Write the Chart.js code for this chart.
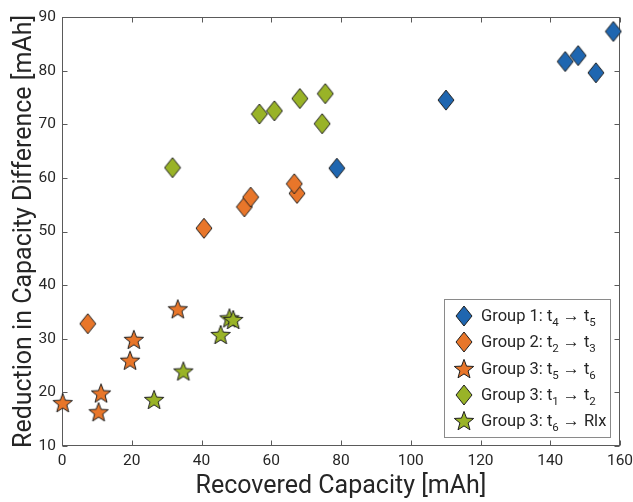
<!DOCTYPE html>
<html>
<head>
<meta charset="utf-8">
<script src="https://cdn.jsdelivr.net/npm/chart.js@4.4.1/dist/chart.umd.min.js"></script>
<style>
  html, body { margin: 0; padding: 0; background: #fff; }
  #wrap { position: relative; width: 633px; height: 502px; }
  #legend {
    position: absolute; left: 444px; top: 299px; width: 167px; height: 139px;
    border: 1px solid #8a8a8a; background: #fff; box-sizing: border-box;
    font-family: Roboto, sans-serif; font-size: 16.5px; color: #262626;
  }
  .row { position: absolute; left: 0; height: 26px; display: flex; align-items: center; white-space: nowrap; }
  .mk { width: 22px; height: 24px; margin-left: 8px; margin-right: 6px; display: flex; align-items: center; justify-content: center; }
  .row sub { font-size: 11.5px; vertical-align: -5px; line-height: 0; }
  .arr { font-family: "Liberation Sans", sans-serif; font-size: 17px; }
</style>
</head>
<body>
<div id="wrap">
  <canvas id="chart" width="633" height="502"></canvas>
  <div id="legend"></div>
</div>
<script>
/* ── Data ─────────────────────────────────────────────── */
const seriesNames = [
  'Group 1: t<sub>4</sub> <span class="arr">→</span> t<sub>5</sub>',
  'Group 2: t<sub>2</sub> <span class="arr">→</span> t<sub>3</sub>',
  'Group 3: t<sub>5</sub> <span class="arr">→</span> t<sub>6</sub>',
  'Group 3: t<sub>1</sub> <span class="arr">→</span> t<sub>2</sub>',
  'Group 3: t<sub>6</sub> <span class="arr">→</span> Rlx',
];
const seriesColors = ['#1F66B0', '#E8762A', '#E8762A', '#99B327', '#99B327'];
const seriesShapes = ['diamond', 'diamond', 'star', 'diamond', 'star'];

const g1X = [78.8, 110.1, 144.3, 148.0, 153.1, 158.1];
const g1Y = [61.8, 74.5, 81.7, 82.8, 79.6, 87.3];

const g2X = [7.4, 40.7, 52.3, 54.1, 67.4, 66.6];
const g2Y = [32.8, 50.6, 54.6, 56.4, 57.1, 58.9];

const g3aX = [0.2, 10.5, 11.2, 19.5, 20.6, 33.2];
const g3aY = [18.0, 16.3, 19.8, 25.9, 29.8, 35.5];

const g3bX = [31.7, 56.6, 60.9, 68.2, 74.6, 75.5];
const g3bY = [61.9, 71.9, 72.5, 74.8, 70.1, 75.7];

const g3cX = [26.4, 34.8, 45.5, 48.0, 49.1];
const g3cY = [18.6, 23.9, 30.7, 33.8, 33.5];

const xTicks = [0, 20, 40, 60, 80, 100, 120, 140, 160];
const yTicks = [10, 20, 30, 40, 50, 60, 70, 80, 90];

const FONT = 'Roboto, sans-serif';
const TEXT = '#262626';
const AXIS = '#5a5a5a';

/* ── Marker images ────────────────────────────────────── */
function markerImg(shape, color) {
  const c = document.createElement('canvas');
  const g = c.getContext('2d');
  if (shape === 'diamond') {
    c.width = 18; c.height = 22;
    g.beginPath();
    g.moveTo(9, 1); g.lineTo(17, 11); g.lineTo(9, 21); g.lineTo(1, 11);
    g.closePath();
  } else {
    c.width = 22; c.height = 22;
    const R = 10.2, r = 4.3, cx = 11, cy = 11.6;
    g.beginPath();
    for (let i = 0; i < 10; i++) {
      const a = -Math.PI / 2 + i * Math.PI / 5;
      const rad = i % 2 ? r : R;
      g.lineTo(cx + rad * Math.cos(a), cy + rad * Math.sin(a));
    }
    g.closePath();
  }
  g.fillStyle = color;
  g.fill();
  g.strokeStyle = '#1e1e1e';
  g.lineWidth = 1;
  g.stroke();
  return c;
}

const toPts = (xs, ys) => xs.map((x, i) => ({ x, y: ys[i] }));
const seriesData = [toPts(g1X, g1Y), toPts(g2X, g2Y), toPts(g3aX, g3aY), toPts(g3bX, g3bY), toPts(g3cX, g3cY)];

/* ── Box + inward ticks ───────────────────────────────── */
const boxPlugin = {
  id: 'box',
  beforeDatasetsDraw(chart) {
    const { ctx, chartArea: { left, right, top, bottom }, scales: { x, y } } = chart;
    ctx.save();
    ctx.strokeStyle = AXIS;
    ctx.lineWidth = 1;
    const L = Math.round(left) + 0.5, R = Math.round(right) - 0.5;
    const T = Math.round(top) + 0.5, B = Math.round(bottom) - 0.5;
    ctx.strokeRect(L, T, R - L, B - T);
    ctx.beginPath();
    xTicks.forEach(v => {
      const p = Math.round(x.getPixelForValue(v)) + 0.5;
      ctx.moveTo(p, B); ctx.lineTo(p, B - 5);
      ctx.moveTo(p, T); ctx.lineTo(p, T + 5);
    });
    yTicks.forEach(v => {
      const p = Math.round(y.getPixelForValue(v)) + 0.5;
      ctx.moveTo(L, p); ctx.lineTo(L + 5, p);
      ctx.moveTo(R, p); ctx.lineTo(R - 5, p);
    });
    ctx.stroke();
    ctx.restore();
  },
};

new Chart(document.getElementById('chart'), {
  type: 'scatter',
  data: {
    datasets: seriesData.map((d, i) => ({
      label: seriesNames[i],
      data: d,
      pointStyle: markerImg(seriesShapes[i], seriesColors[i]),
      order: 5 - i,
      clip: false,
    })),
  },
  options: {
    responsive: false,
    animation: false,
    layout: { padding: { top: 17, right: 13, left: 0, bottom: 0 } },
    plugins: { legend: { display: false }, tooltip: { enabled: false } },
    scales: {
      x: {
        type: 'linear', min: 0, max: 160,
        afterBuildTicks: s => { s.ticks = xTicks.map(v => ({ value: v })); },
        afterFit: s => { s.height = 56; s.paddingLeft = 0; s.paddingRight = 0; },
        grid: { display: false, drawTicks: false },
        border: { display: false },
        ticks: { color: TEXT, font: { family: FONT, size: 15.5 }, padding: 6, maxRotation: 0 },
        title: { display: true, text: 'Recovered Capacity [mAh]', color: TEXT,
                 font: { family: FONT, size: 25 }, padding: { top: 0, bottom: 0 } },
      },
      y: {
        type: 'linear', min: 10, max: 90,
        afterBuildTicks: s => { s.ticks = yTicks.map(v => ({ value: v })); },
        afterFit: s => { s.width = 62; s.paddingTop = 0; s.paddingBottom = 0; },
        grid: { display: false, drawTicks: false },
        border: { display: false },
        ticks: { color: TEXT, font: { family: FONT, size: 15.5 }, padding: 6 },
        title: { display: true, text: 'Reduction in Capacity Difference [mAh]', color: TEXT,
                 font: { family: FONT, size: 25 }, padding: { top: 10, bottom: 0 } },
      },
    },
  },
  plugins: [boxPlugin],
});

/* ── Legend (HTML, for subscripts) ────────────────────── */
const legend = document.getElementById('legend');
seriesNames.forEach((name, i) => {
  const row = document.createElement('div');
  row.className = 'row';
  row.style.top = (3 + i * 26.3) + 'px';
  const holder = document.createElement('div');
  holder.className = 'mk';
  holder.appendChild(markerImg(seriesShapes[i], seriesColors[i]));
  row.appendChild(holder);
  const label = document.createElement('span');
  label.innerHTML = name;
  row.appendChild(label);
  legend.appendChild(row);
});
</script>
</body>
</html>
